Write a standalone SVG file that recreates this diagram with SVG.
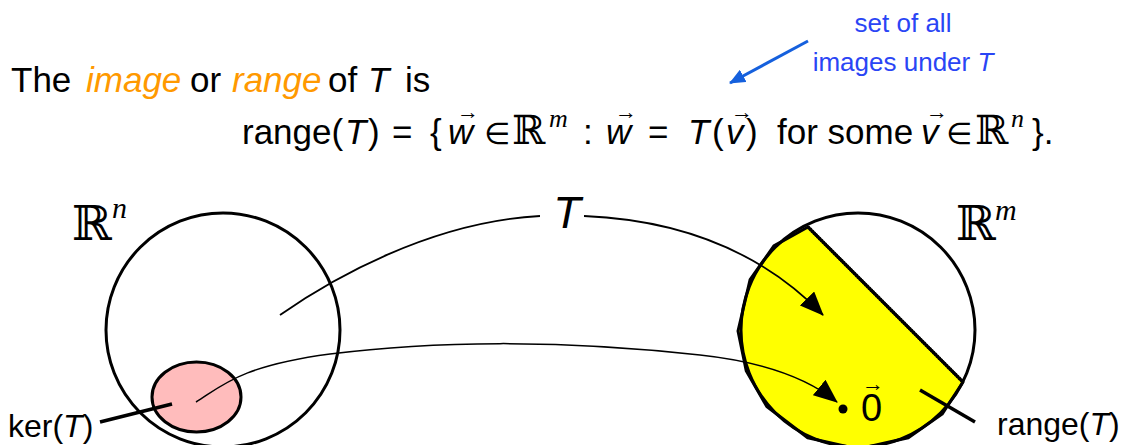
<svg xmlns="http://www.w3.org/2000/svg" width="1126" height="445" viewBox="0 0 1126 445">
<style>
.t{font-family:"Liberation Sans",Arial,sans-serif;font-size:35px;fill:#000}
.i{font-style:italic}
.o{fill:#ff9900}
.el{font-family:"DejaVu Sans",sans-serif;font-size:30px}
.bb{font-family:"DejaVu Serif",serif;font-size:40px}
.sup{font-family:"Liberation Serif",serif;font-style:italic;font-size:26px}
.vec{font-family:"Liberation Sans",Arial,sans-serif;font-size:22px;fill:#000}
.blue{font-family:"Liberation Sans",Arial,sans-serif;font-size:26px;fill:#2a45f5}
.lab{font-family:"Liberation Sans",Arial,sans-serif;font-size:32px;fill:#000}
.thin{fill:none;stroke:#000;stroke-width:1.8}
.thick{fill:none;stroke:#000;stroke-width:3}
</style>
<defs>
<marker id="ah" markerUnits="userSpaceOnUse" markerWidth="24" markerHeight="20" refX="23" refY="10" orient="auto">
<path d="M0,0 L24,10 L0,20 z" fill="#000"/>
</marker>
<marker id="bh" markerUnits="userSpaceOnUse" markerWidth="16" markerHeight="14" refX="15" refY="7" orient="auto">
<path d="M0,0 L16,7 L0,14 z" fill="#1560dd"/>
</marker>
</defs>

<g id="heading">
<text class="t" x="11" y="92">The</text>
<text class="t i o" x="86" y="92">image</text>
<text class="t" x="190" y="92">or</text>
<text class="t i o" x="232" y="92">range</text>
<text class="t" x="328" y="92">of</text>
<text class="t i" x="368" y="92">T</text>
<text class="t" x="405" y="92">is</text>
</g>

<g id="formula">
<text class="t" x="242" y="144">range(</text>
<text class="t i" x="345" y="144">T</text>
<text class="t" x="368" y="144">)</text>
<text class="t" x="392" y="144">=</text>
<text class="t" x="430" y="144">{</text>
<text class="t i" x="448" y="144">w</text>
<text class="vec" x="457" y="119">→</text>
<text class="el" x="484" y="144">∈</text>
<text class="bb" x="512" y="144">ℝ</text>
<text class="sup" x="549" y="127">m</text>
<text class="t" x="583" y="144">:</text>
<text class="t i" x="606" y="144">w</text>
<text class="vec" x="615" y="119">→</text>
<text class="t" x="648" y="144">=</text>
<text class="t i" x="688" y="144">T</text>
<text class="t" x="712" y="144">(</text>
<text class="t i" x="726" y="144">v</text>
<text class="vec" x="731" y="119">→</text>
<text class="t" x="746" y="144">)</text>
<text class="t" x="777" y="144">for some</text>
<text class="t i" x="921" y="144">v</text>
<text class="vec" x="926" y="119">→</text>
<text class="el" x="946" y="144">∈</text>
<text class="bb" x="975" y="144">ℝ</text>
<text class="sup" x="1011" y="127">n</text>
<text class="t" x="1032" y="144">}.</text>
</g>

<g id="note">
<text class="blue" x="903" y="32" text-anchor="middle">set of all</text>
<text class="blue" x="903" y="71" text-anchor="middle">images under <tspan font-style="italic">T</tspan></text>
</g>

<g id="domain">
<circle cx="223" cy="330" r="117" class="thick" fill="#fff"/>
<text class="bb" x="72" y="240" style="font-size:48px">ℝ</text>
<text class="sup" x="112" y="218" style="font-size:30px">n</text>
</g>

<g id="kernel">
<ellipse cx="196.5" cy="397" rx="44.5" ry="35" fill="#ffbcbc" stroke="#000" stroke-width="3"/>
</g>

<g id="codomain">
<polygon points="808,227 773.9,245.9 750.1,279.7 738,331 746.2,370.7 766.8,406.5 807.7,437.8 858,449 908.3,437.8 942.1,414.1 963,382" fill="#ffff00" stroke="#000" stroke-width="3" stroke-linejoin="round"/>
<circle cx="858" cy="330" r="117" class="thick"/>
<line x1="808" y1="227" x2="963" y2="382" stroke="#000" stroke-width="3.5" stroke-dasharray="2 0.6"/>
<text class="bb" x="956" y="240" style="font-size:48px">ℝ</text>
<text class="sup" x="995" y="220" style="font-size:30px">m</text>
</g>

<g id="zero">
<circle cx="843" cy="409" r="4.5" fill="#000"/>
<text class="t" x="861" y="421" style="font-size:38px">0</text>
<text class="vec" x="862" y="391">→</text>
</g>

<g id="labels">
<text class="lab" x="8" y="437">ker(<tspan font-style="italic">T</tspan>)</text>
<text class="lab" x="997" y="435">range(<tspan font-style="italic">T</tspan>)</text>
</g>

<g id="connectors">
<path class="thin" d="M280,315 C330,280 430,222 540,216"/>
<text class="t i" x="567" y="228" text-anchor="middle" style="font-size:45px">T</text>
<path class="thin" d="M584,216 C680,220 760,250 823,315" marker-end="url(#ah)"/>
<path fill="none" stroke="#000" stroke-width="1.5" d="M196,402 C222,386 240,366 330,354 C430,341 560,339 700,355 C765,362 810,380 837,402" marker-end="url(#ah)"/>
<line x1="100" y1="422" x2="172" y2="404" stroke="#000" stroke-width="3.5"/>
<line x1="920" y1="390" x2="975" y2="422" stroke="#000" stroke-width="3.5"/>
<line x1="808" y1="41" x2="730" y2="83" stroke="#1560dd" stroke-width="3" marker-end="url(#bh)"/>
</g>
</svg>
